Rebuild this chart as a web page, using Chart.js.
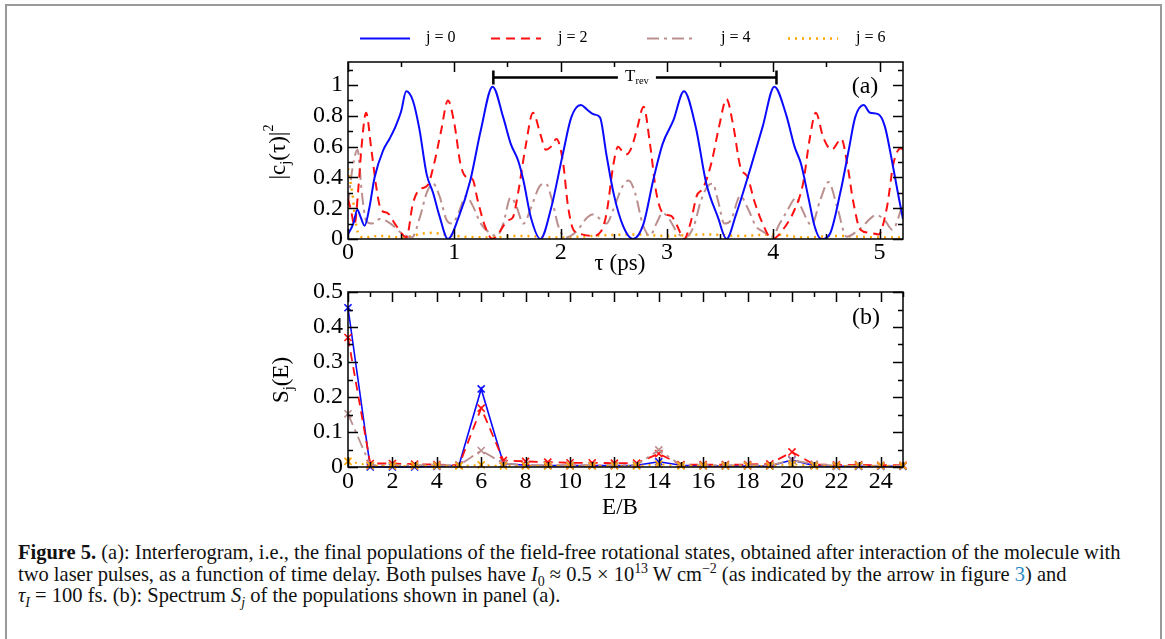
<!DOCTYPE html>
<html>
<head>
<meta charset="utf-8">
<script src="https://cdn.jsdelivr.net/npm/chart.js@4.4.1/dist/chart.umd.min.js"></script>
<style>
  body { margin: 0; background: #fff; width: 1165px; height: 639px; overflow: hidden; position: relative; font-family: 'Liberation Serif', serif; }
  #frame { position: absolute; left: 5px; top: 4px; width: 1153px; height: 700px; border: 2px solid #9a9a9a; border-bottom: none; }
  canvas { position: absolute; left: 0; }
  #caption { position: absolute; left: 18px; top: 542px; font-size: 17px; line-height: 21.5px; white-space: nowrap; color: #111; }
  #caption div { height: 21.5px; }
  #caption span { display: inline-block; }
  #caption sub, #caption sup { line-height: 0; font-size: 68%; }
  #caption a { color: #2b8ac6; text-decoration: none; }
</style>
</head>
<body>
<div id="frame"></div>
<canvas id="chartA" width="1165" height="275" style="top:0"></canvas>
<canvas id="chartB" width="1165" height="245" style="top:275px"></canvas>
<div id="caption">
  <div><span id="capLine1"><b>Figure 5.</b> (a): Interferogram, i.e., the final populations of the field-free rotational states, obtained after interaction of the molecule with</span></div>
  <div><span>two laser pulses, as a function of time delay. Both pulses have <i>I</i><sub>0</sub> &#8776; 0.5 &#215; 10<sup>13</sup> W cm<sup>&#8722;2</sup> (as indicated by the arrow in figure <a>3</a>) and</span></div>
  <div><span><i>&#964;<sub>I</sub></i> = 100 fs. (b): Spectrum <i>S<sub>j</sub></i> of the populations shown in panel (a).</span></div>
</div>
<script>
// panel (a): populations vs time delay (ps)
const tauJ0 = [0, 0.05, 0.088, 0.12, 0.156, 0.2, 0.25, 0.33, 0.39, 0.44, 0.5, 0.547, 0.61, 0.67, 0.74, 0.8, 0.86, 0.94, 1.04, 1.15, 1.25, 1.36, 1.46, 1.53, 1.6, 1.65, 1.72, 1.81, 1.91, 2.02, 2.1, 2.19, 2.25, 2.31, 2.37, 2.43, 2.5, 2.59, 2.68, 2.78, 2.87, 2.96, 3.06, 3.16, 3.27, 3.37, 3.48, 3.56, 3.65, 3.79, 3.9, 4.01, 4.12, 4.2, 4.26, 4.33, 4.39, 4.45, 4.53, 4.63, 4.71, 4.77, 4.85, 4.91, 4.99, 5.05, 5.11, 5.18, 5.22];
const popJ0 = [0.03, 0.1, 0.19, 0.14, 0.086, 0.2, 0.4, 0.575, 0.65, 0.72, 0.83, 0.96, 0.9, 0.72, 0.42, 0.3, 0.15, 0.0, 0.14, 0.38, 0.71, 0.99, 0.79, 0.62, 0.51, 0.38, 0.14, 0.0, 0.2, 0.55, 0.79, 0.87, 0.84, 0.81, 0.79, 0.55, 0.29, 0.08, 0.0, 0.1, 0.38, 0.62, 0.77, 0.96, 0.73, 0.36, 0.14, 0.0, 0.16, 0.47, 0.73, 0.99, 0.81, 0.6, 0.49, 0.27, 0.08, 0.0, 0.03, 0.3, 0.58, 0.79, 0.87, 0.82, 0.81, 0.73, 0.53, 0.27, 0.13];

const tauJ2 = [0, 0.03, 0.06, 0.1, 0.125, 0.17, 0.22, 0.27, 0.31, 0.37, 0.44, 0.5, 0.55, 0.61, 0.67, 0.75, 0.81, 0.875, 0.94, 1.0, 1.06, 1.12, 1.17, 1.22, 1.29, 1.36, 1.43, 1.5, 1.55, 1.6, 1.67, 1.74, 1.81, 1.86, 1.91, 1.96, 2.02, 2.07, 2.12, 2.2, 2.3, 2.38, 2.43, 2.5, 2.54, 2.58, 2.62, 2.67, 2.72, 2.78, 2.84, 2.9, 2.96, 3.04, 3.1, 3.16, 3.22, 3.28, 3.34, 3.42, 3.49, 3.56, 3.62, 3.69, 3.76, 3.82, 3.9, 3.99, 4.09, 4.2, 4.28, 4.34, 4.4, 4.47, 4.55, 4.64, 4.7, 4.75, 4.82, 4.91, 4.99, 5.07, 5.13, 5.2, 5.22];
const popJ2 = [0.26, 0.18, 0.09, 0.35, 0.58, 0.82, 0.58, 0.32, 0.19, 0.17, 0.1, 0.04, 0.01, 0.23, 0.32, 0.35, 0.49, 0.7, 0.9, 0.75, 0.48, 0.4, 0.39, 0.25, 0.08, 0.0, 0.05, 0.12, 0.14, 0.3, 0.6, 0.82, 0.68, 0.58, 0.6, 0.65, 0.51, 0.21, 0.06, 0.03, 0.02, 0.05, 0.16, 0.5, 0.6, 0.57, 0.55, 0.6, 0.72, 0.86, 0.62, 0.3, 0.17, 0.15, 0.08, 0.0, 0.1, 0.28, 0.33, 0.5, 0.73, 0.91, 0.75, 0.47, 0.4, 0.25, 0.1, 0.0, 0.06, 0.19, 0.36, 0.64, 0.82, 0.66, 0.58, 0.65, 0.47, 0.25, 0.06, 0.04, 0.03, 0.21, 0.49, 0.59, 0.58];

const tauJ4 = [0, 0.04, 0.09, 0.13, 0.17, 0.22, 0.3, 0.4, 0.5, 0.6, 0.68, 0.74, 0.8, 0.86, 0.93, 0.98, 1.04, 1.11, 1.17, 1.25, 1.33, 1.4, 1.46, 1.53, 1.58, 1.65, 1.72, 1.8, 1.86, 1.92, 1.98, 2.05, 2.15, 2.25, 2.31, 2.37, 2.43, 2.5, 2.58, 2.64, 2.7, 2.77, 2.84, 2.9, 2.96, 3.02, 3.1, 3.17, 3.25, 3.32, 3.38, 3.43, 3.48, 3.54, 3.6, 3.69, 3.76, 3.84, 3.9, 3.99, 4.06, 4.12, 4.22, 4.26, 4.36, 4.44, 4.52, 4.6, 4.69, 4.82, 4.97, 5.05, 5.12, 5.22];
const popJ4 = [0.22, 0.45, 0.58, 0.3, 0.12, 0.1, 0.13, 0.1, 0.04, 0.01, 0.15, 0.3, 0.36, 0.28, 0.12, 0.1, 0.17, 0.28, 0.22, 0.1, 0.04, 0.02, 0.1, 0.27, 0.22, 0.1, 0.2, 0.34, 0.36, 0.25, 0.08, 0.01, 0.05, 0.14, 0.16, 0.13, 0.1, 0.2, 0.34, 0.38, 0.3, 0.1, 0.02, 0.1, 0.17, 0.13, 0.04, 0.01, 0.08, 0.25, 0.34, 0.36, 0.25, 0.1, 0.12, 0.28, 0.2, 0.08, 0.05, 0.015, 0.1, 0.17, 0.27, 0.21, 0.09, 0.25, 0.37, 0.21, 0.015, 0.07, 0.155, 0.12, 0.06, 0.23];

const tauJ6 = [0, 0.02, 0.04, 0.07, 0.1, 0.15, 0.3, 0.5, 0.77, 1.0, 1.36, 1.6, 2.0, 2.3, 2.7, 3.0, 3.37, 3.7, 4.0, 4.3, 4.6, 5.0, 5.22];
const popJ6 = [0.46, 0.38, 0.3, 0.12, 0.03, 0.01, 0.02, 0.01, 0.04, 0.02, 0.01, 0.02, 0.01, 0.02, 0.03, 0.02, 0.03, 0.02, 0.03, 0.01, 0.02, 0.01, 0.01];

// revival period bracket (ps) and its height
const trevStart = 1.367;
const trevEnd = 4.03;
const trevLevel = 1.05;

// panel (b): spectrum vs E/B
const energyB = [0, 1, 2, 3, 4, 5, 6, 7, 8, 9, 10, 11, 12, 13, 14, 15, 16, 17, 18, 19, 20, 21, 22, 23, 24, 25];
const specJ0 = [0.455, 0.0, 0.0, 0.0, 0.002, 0.005, 0.223, 0.01, 0.005, 0.004, 0.004, 0.004, 0.004, 0.005, 0.015, 0.005, 0.003, 0.003, 0.003, 0.003, 0.02, 0.004, 0.002, 0.002, 0.002, 0.002];
const specJ2 = [0.37, 0.01, 0.01, 0.008, 0.007, 0.005, 0.168, 0.019, 0.016, 0.014, 0.012, 0.012, 0.011, 0.011, 0.038, 0.007, 0.007, 0.007, 0.007, 0.009, 0.043, 0.007, 0.006, 0.006, 0.005, 0.005];
const specJ4 = [0.152, 0.005, 0.005, 0.005, 0.005, 0.005, 0.047, 0.01, 0.005, 0.005, 0.005, 0.005, 0.005, 0.006, 0.049, 0.005, 0.005, 0.005, 0.005, 0.005, 0.02, 0.008, 0.004, 0.004, 0.004, 0.004];
const specJ6 = [0.016, 0.004, 0.003, 0.003, 0.003, 0.003, 0.006, 0.003, 0.003, 0.003, 0.003, 0.003, 0.003, 0.003, 0.008, 0.003, 0.003, 0.003, 0.003, 0.003, 0.008, 0.003, 0.003, 0.003, 0.003, 0.003];

const seriesLabels = ['j = 0', 'j = 2', 'j = 4', 'j = 6'];

const SERIF = '"Liberation Serif", "Times New Roman", serif';
const looks = [
  { color: '#0a0aff', dash: [], width: 2 },
  { color: '#ff1010', dash: [9, 6], width: 2 },
  { color: '#bc8f8f', dash: [12, 5, 3, 5], width: 2 },
  { color: '#ffa500', dash: [2, 5], width: 2.5 }
];

const pts = (xs, ys) => xs.map((x, i) => ({ x, y: ys[i] }));
const plainNum = v => String(+v.toFixed(2));

// text with sub/superscripts, centred on (cx, cy)
function drawRuns(ctx, runs, cx, cy, size, rot) {
  ctx.save();
  ctx.translate(cx, cy);
  if (rot) ctx.rotate(rot);
  ctx.textBaseline = 'middle';
  ctx.textAlign = 'left';
  ctx.fillStyle = '#000';
  const parts = runs.map(r => {
    const s = (r.sub || r.sup) ? size * 0.62 : size;
    const font = (r.it ? 'italic ' : '') + s + 'px ' + SERIF;
    ctx.font = font;
    return { t: r.t, font, w: ctx.measureText(r.t).width, dy: r.sub ? size * 0.3 : r.sup ? -size * 0.42 : 0 };
  });
  let x = -parts.reduce((s, p) => s + p.w, 0) / 2;
  parts.forEach(p => { ctx.font = p.font; ctx.fillText(p.t, x, p.dy); x += p.w; });
  ctx.restore();
}

// box + inward major/minor ticks on all four sides
const frameTicks = {
  id: 'frameTicks',
  afterDraw(chart, args, o) {
    const { ctx, chartArea: a, scales: { x, y } } = chart;
    ctx.save();
    ctx.strokeStyle = '#000';
    ctx.lineWidth = 1.5;
    ctx.setLineDash([]);
    ctx.strokeRect(a.left, a.top, a.right - a.left, a.bottom - a.top);
    ctx.beginPath();
    for (let i = 0; x.min + i * o.xMinor <= x.max + 1e-9; i++) {
      const v = x.min + i * o.xMinor;
      const major = Math.abs(v / o.xMajor - Math.round(v / o.xMajor)) < 1e-6;
      const len = major ? 10 : 5;
      const px = Math.round(x.getPixelForValue(v)) + 0.5;
      ctx.moveTo(px, a.bottom); ctx.lineTo(px, a.bottom - len);
      ctx.moveTo(px, a.top); ctx.lineTo(px, a.top + len);
    }
    for (let i = 0; y.min + i * o.yMinor <= y.max + 1e-9; i++) {
      const v = y.min + i * o.yMinor;
      const major = Math.abs(v / o.yMajor - Math.round(v / o.yMajor)) < 1e-6;
      const len = major ? 10 : 5;
      const py = Math.round(y.getPixelForValue(v)) + 0.5;
      ctx.moveTo(a.left, py); ctx.lineTo(a.left + len, py);
      ctx.moveTo(a.right, py); ctx.lineTo(a.right - len, py);
    }
    ctx.stroke();
    ctx.restore();
  }
};

const tickFont = { family: SERIF, size: 24, lineHeight: 1 };

function lineSet(label, data, k, extra) {
  return Object.assign({
    label, data,
    borderColor: looks[k].color,
    backgroundColor: looks[k].color,
    borderDash: looks[k].dash,
    borderWidth: looks[k].width,
    pointRadius: 0,
    fill: false
  }, extra || {});
}

// ---------- panel (a) ----------
const annotA = {
  id: 'annotA',
  afterDraw(chart) {
    const { ctx, scales: { x, y } } = chart;
    // legend
    const lineX = [360, 491, 647, 788];
    const textX = [426, 558, 721, 856];
    chart.data.datasets.forEach((ds, i) => {
      ctx.save();
      ctx.strokeStyle = ds.borderColor;
      ctx.lineWidth = ds.borderWidth;
      ctx.setLineDash(ds.borderDash);
      ctx.beginPath();
      ctx.moveTo(lineX[i], 38.5);
      ctx.lineTo(lineX[i] + 50, 38.5);
      ctx.stroke();
      ctx.fillStyle = '#000';
      ctx.font = '16px ' + SERIF;
      ctx.textBaseline = 'middle';
      ctx.fillText(ds.label, textX[i], 38);
      ctx.restore();
    });
    // T_rev bracket
    const x1 = x.getPixelForValue(trevStart);
    const x2 = x.getPixelForValue(trevEnd);
    const yb = Math.round(y.getPixelForValue(trevLevel)) + 0.5;
    const xm = (x1 + x2) / 2 + 2;
    ctx.save();
    ctx.strokeStyle = '#000';
    ctx.lineWidth = 2.5;
    ctx.beginPath();
    ctx.moveTo(x1, yb); ctx.lineTo(xm - 19, yb);
    ctx.moveTo(xm + 19, yb); ctx.lineTo(x2, yb);
    ctx.moveTo(x1, yb - 7); ctx.lineTo(x1, yb + 7);
    ctx.moveTo(x2, yb - 7); ctx.lineTo(x2, yb + 7);
    ctx.stroke();
    ctx.restore();
    drawRuns(ctx, [{ t: 'T' }, { t: 'rev', sub: true }], xm, yb - 1, 17);
    // labels
    drawRuns(ctx, [{ t: '(a)' }], 865, 87, 24);
    drawRuns(ctx, [{ t: '\u03c4 (ps)' }], 620, 264, 23);
    drawRuns(ctx, [{ t: '|c' }, { t: 'j', sub: true }, { t: '(\u03c4)|' }, { t: '2', sup: true }], 279, 152, 23, -Math.PI / 2);
  }
};

new Chart(document.getElementById('chartA'), {
  type: 'line',
  data: {
    datasets: [
      lineSet(seriesLabels[0], pts(tauJ0, popJ0), 0),
      lineSet(seriesLabels[1], pts(tauJ2, popJ2), 1),
      lineSet(seriesLabels[2], pts(tauJ4, popJ4), 2),
      lineSet(seriesLabels[3], pts(tauJ6, popJ6), 3)
    ]
  },
  options: {
    responsive: false,
    animation: false,
    cubicInterpolationMode: 'monotone',
    layout: { padding: { left: 288, right: 262, top: 62, bottom: 0 } },
    plugins: {
      legend: { display: false },
      tooltip: { enabled: false },
      frameTicks: { xMinor: 0.5, xMajor: 1, yMinor: 0.1, yMajor: 0.2 }
    },
    scales: {
      x: {
        type: 'linear', min: 0, max: 5.22,
        grid: { display: false, drawTicks: false },
        border: { display: false },
        ticks: { stepSize: 1, includeBounds: false, padding: 1.5, color: '#000', font: tickFont, maxRotation: 0, callback: plainNum },
        afterFit: s => { s.height = 36; }
      },
      y: {
        min: 0, max: 1.15,
        grid: { display: false, drawTicks: false },
        border: { display: false },
        ticks: { stepSize: 0.2, includeBounds: false, padding: 5, color: '#000', font: tickFont, callback: plainNum },
        afterFit: s => { s.width = 60; }
      }
    }
  },
  plugins: [frameTicks, annotA]
});

// ---------- panel (b) ----------
const annotB = {
  id: 'annotB',
  afterDraw(chart) {
    const { ctx } = chart;
    drawRuns(ctx, [{ t: '(b)' }], 866, 43, 24);
    drawRuns(ctx, [{ t: 'E/B' }], 620, 233, 23);
    drawRuns(ctx, [{ t: 'S' }, { t: 'j', sub: true }, { t: '(E)' }], 282, 105, 23, -Math.PI / 2);
  }
};

const markerOpts = { pointStyle: 'crossRot', pointRadius: 5, pointBorderWidth: 1.6, clip: 8 };
const specSets = [specJ0, specJ2, specJ4, specJ6].map((vals, k) =>
  lineSet(seriesLabels[k], pts(energyB, vals), k, Object.assign({ pointBorderColor: looks[k].color, borderWidth: k === 0 ? 1.6 : 1.8, order: 3 - k }, markerOpts))
);

new Chart(document.getElementById('chartB'), {
  type: 'line',
  data: { datasets: specSets },
  options: {
    responsive: false,
    animation: false,
    layout: { padding: { left: 288, right: 262, top: 15, bottom: 0 } },
    plugins: {
      legend: { display: false },
      tooltip: { enabled: false },
      frameTicks: { xMinor: 1, xMajor: 2, yMinor: 0.05, yMajor: 0.1 }
    },
    scales: {
      x: {
        type: 'linear', min: 0, max: 25,
        grid: { display: false, drawTicks: false },
        border: { display: false },
        ticks: { stepSize: 2, includeBounds: false, padding: 2.5, color: '#000', font: tickFont, maxRotation: 0, autoSkip: false, callback: plainNum },
        afterFit: s => { s.height = 53; }
      },
      y: {
        min: 0, max: 0.5,
        grid: { display: false, drawTicks: false },
        border: { display: false },
        ticks: { stepSize: 0.1, padding: 5, color: '#000', font: tickFont, callback: plainNum },
        afterFit: s => { s.width = 60; }
      }
    }
  },
  plugins: [frameTicks, annotB]
});

// fit caption size so the first line spans like the original
const cap = document.getElementById('caption');
const w1 = document.getElementById('capLine1').getBoundingClientRect().width;
cap.style.fontSize = (17 * 1103 / w1).toFixed(2) + 'px';
</script>
</body>
</html>
